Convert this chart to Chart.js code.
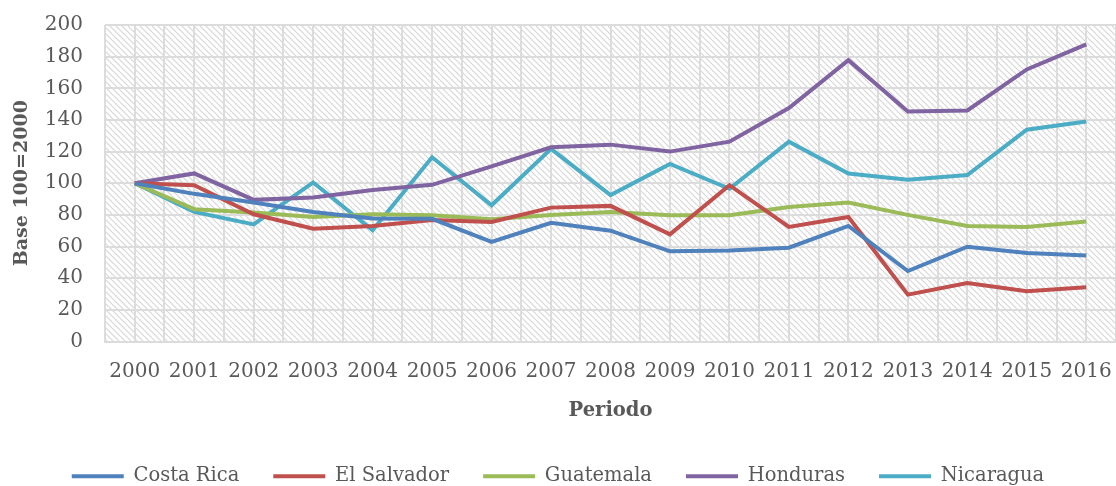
<!DOCTYPE html>
<html lang="es">
<head>
    <meta charset="UTF-8">
    <title>Base 100=2000</title>
    <script src="https://cdn.jsdelivr.net/npm/chart.js"></script>
    <style>
        body { margin: 0; padding: 0; background: #fff; }
        #wrap { width: 1116px; height: 486px; position: relative; }
    </style>
</head>
<body>
<div id="wrap"><canvas id="grafico"></canvas></div>
<script>
    // Datos
    const periodos = ['2000','2001','2002','2003','2004','2005','2006','2007','2008','2009','2010','2011','2012','2013','2014','2015','2016'];
    const costaRica  = [100, 93.3, 87.8, 81.9, 77.7, 77.5, 63, 75, 70, 57, 57.5, 59.3, 73, 44.5, 59.9, 56, 54.4];
    const elSalvador = [100, 98.8, 80.4, 71.3, 73, 76.8, 75.5, 84.6, 85.7, 67.7, 98.8, 72.4, 78.7, 29.6, 37, 31.7, 34.3];
    const guatemala  = [100, 83.6, 81.5, 78.7, 80.4, 79.8, 77.2, 80, 81.9, 79.8, 79.8, 85, 87.8, 80, 73, 72.4, 75.8];
    const honduras   = [100, 106.2, 89.5, 91, 95.7, 99, 110.7, 122.7, 124.4, 120, 126.3, 147.5, 177.8, 145.4, 146, 171.9, 187.7];
    const nicaragua  = [100, 81.9, 74, 100.5, 70.3, 116.4, 86.1, 121.7, 92.5, 112.2, 96.5, 126.3, 106.2, 102.2, 105.2, 133.8, 139];
    const yTicks = [0, 20, 40, 60, 80, 100, 120, 140, 160, 180, 200];

    const series = [
        { nombre: 'Costa Rica',  datos: costaRica,  color: '#4f81bd' },
        { nombre: 'El Salvador', datos: elSalvador, color: '#c0504d' },
        { nombre: 'Guatemala',   datos: guatemala,  color: '#9bbb59' },
        { nombre: 'Honduras',    datos: honduras,   color: '#8064a2' },
        { nombre: 'Nicaragua',   datos: nicaragua,  color: '#4bacc6' }
    ];

    const texto = '#595959';
    const rejilla = '#dcdcdc';

    // fondo rayado del área de trazado
    function patronRayado(ctx) {
        const c = document.createElement('canvas');
        c.width = 6; c.height = 6;
        const g = c.getContext('2d');
        g.strokeStyle = '#d6d6d6';
        g.lineWidth = 1.1;
        g.beginPath();
        g.moveTo(-1, -1); g.lineTo(7, 7);
        g.moveTo(-1, 5); g.lineTo(1, 7);
        g.moveTo(5, -1); g.lineTo(7, 1);
        g.stroke();
        return ctx.createPattern(c, 'repeat');
    }

    const fondo = {
        id: 'fondo',
        beforeDraw(chart) {
            const { ctx, chartArea: a } = chart;
            ctx.save();
            ctx.fillStyle = patronRayado(ctx);
            ctx.fillRect(a.left, a.top, a.right - a.left, a.bottom - a.top);
            ctx.restore();
        }
    };

    new Chart(document.getElementById('grafico'), {
        type: 'line',
        data: {
            labels: periodos,
            datasets: series.map(s => ({
                label: s.nombre,
                data: s.datos,
                borderColor: s.color,
                backgroundColor: s.color,
                borderWidth: 4,
                pointRadius: 0,
                tension: 0
            }))
        },
        options: {
            responsive: true,
            maintainAspectRatio: false,
            animation: false,
            layout: { padding: { top: 25, right: 0, left: 0, bottom: -10 } },
            scales: {
                x: {
                    offset: true,
                    grid: { offset: true, color: rejilla, lineWidth: 2,
                            tickLength: 15, tickColor: 'transparent' },
                    border: { color: rejilla, width: 2 },
                    ticks: { color: texto, padding: 3, maxRotation: 0, autoSkip: false,
                             font: { family: 'DejaVu Serif', size: 20 } },
                    title: { display: true, text: 'Periodo', color: texto,
                             padding: { top: 12, bottom: 10 },
                             font: { family: 'DejaVu Serif', size: 19.5, weight: 'bold' } },
                    afterFit(scale) { scale.height = 91; }
                },
                x2: {
                    type: 'category',
                    position: 'top',
                    offset: true,
                    grid: { offset: false, color: rejilla, lineWidth: 2, drawTicks: false },
                    border: { display: false },
                    ticks: { display: false, padding: 0 },
                    afterFit(scale) { scale.height = 0; }
                },
                y: {
                    min: 0,
                    max: 200,
                    afterBuildTicks(scale) { scale.ticks = yTicks.map(v => ({ value: v })); },
                    grid: { color: rejilla, lineWidth: 2, tickLength: 19, tickColor: 'transparent' },
                    border: { display: false },
                    ticks: { color: texto, padding: 3,
                             font: { family: 'DejaVu Serif', size: 20 } },
                    title: { display: true, text: 'Base 100=2000', color: texto,
                             padding: { top: 11, bottom: 0 },
                             font: { family: 'DejaVu Serif', size: 19, weight: 'bold' } },
                    afterFit(scale) { scale.width = 105; }
                }
            },
            plugins: {
                legend: {
                    position: 'bottom',
                    labels: {
                        color: texto,
                        usePointStyle: true,
                        pointStyle: 'line',
                        pointStyleWidth: 52,
                        padding: 34,
                        font: { family: 'DejaVu Serif', size: 19.5 }
                    }
                },
                tooltip: { enabled: false }
            }
        },
        plugins: [fondo]
    });
</script>
</body>
</html>
